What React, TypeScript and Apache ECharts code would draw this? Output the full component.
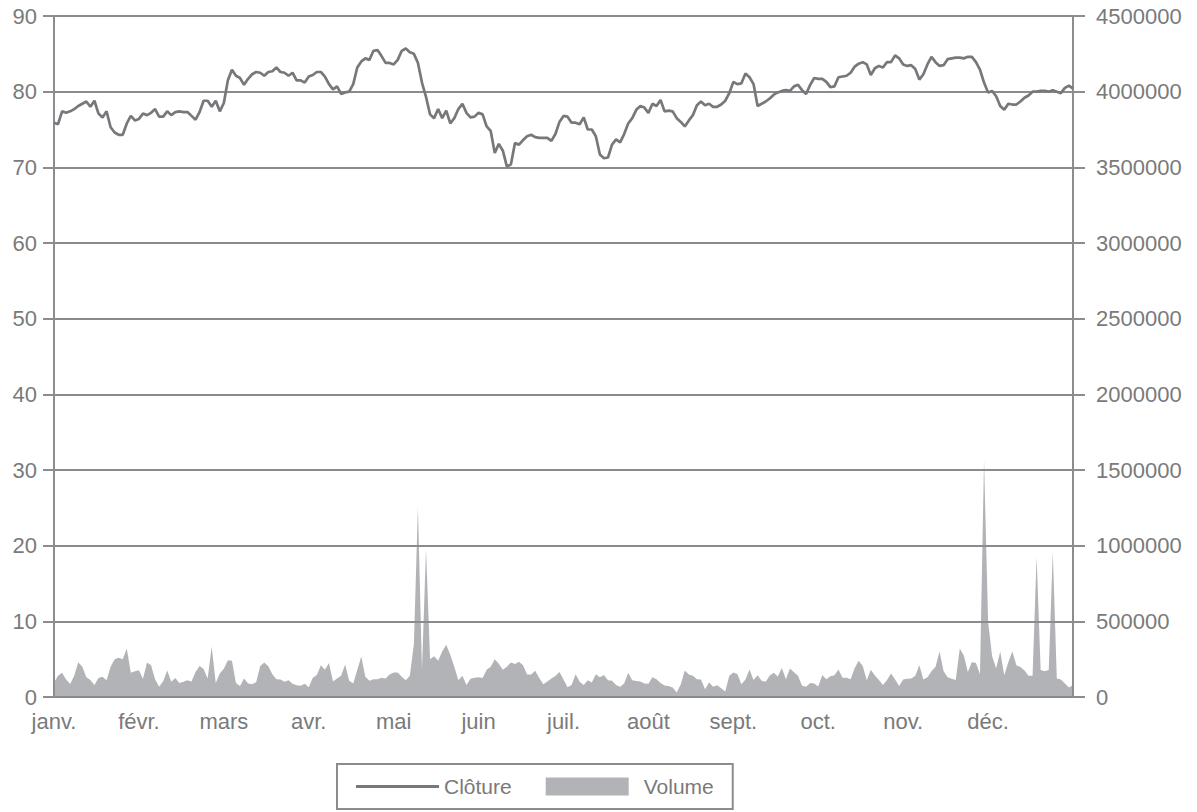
import React, { useEffect, useRef } from "react";
import * as echarts from "echarts";

const monthLabels = ["janv.", "févr.", "mars", "avr.", "mai", "juin", "juil.", "août", "sept.", "oct.", "nov.", "déc."];
const daysPerMonthSlot = 21;

const closeValues = [
  75.9, 75.7, 77.4, 77.2, 77.4, 77.7, 78.1, 78.4, 78.7, 78.0,
  78.8, 77.1, 76.6, 77.4, 75.3, 74.6, 74.3, 74.3, 75.8, 76.8,
  76.2, 76.4, 77.1, 76.9, 77.2, 77.7, 76.7, 76.7, 77.4, 76.9,
  77.3, 77.4, 77.3, 77.3, 76.8, 76.3, 77.3, 78.8, 78.8, 78.0,
  78.8, 77.4, 78.5, 81.5, 82.9, 82.1, 81.8, 80.9, 81.7, 82.3,
  82.6, 82.5, 82.1, 82.6, 82.7, 83.2, 82.6, 82.5, 82.1, 82.5,
  81.5, 81.5, 81.2, 82.0, 82.2, 82.6, 82.6, 82.0, 81.0, 80.3,
  80.7, 79.7, 79.9, 80.0, 81.0, 83.2, 84.0, 84.4, 84.2, 85.4,
  85.5, 84.7, 83.8, 83.8, 83.6, 84.2, 85.4, 85.7, 85.2, 85.0,
  83.8, 81.2, 79.3, 77.0, 76.5, 77.7, 76.5, 77.5, 75.8, 76.5,
  77.7, 78.4, 77.2, 76.6, 76.7, 77.2, 77.0, 75.4, 74.8, 71.9,
  73.1, 72.2, 70.1, 70.4, 73.2, 73.0, 73.6, 74.1, 74.3, 74.0,
  73.9, 73.9, 73.9, 73.5, 74.4, 76.0, 76.8, 76.7, 75.9, 75.9,
  75.7, 76.6, 75.0, 75.0, 74.1, 71.7, 71.2, 71.3, 73.0, 73.7,
  73.3, 74.4, 75.8, 76.5, 77.6, 78.1, 77.9, 77.2, 78.4, 78.1,
  78.9, 77.4, 77.5, 77.4, 76.5, 76.0, 75.4, 76.2, 76.9, 78.2,
  78.7, 78.2, 78.4, 78.0, 78.0, 78.3, 78.8, 79.8, 81.3, 81.0,
  81.1, 82.4, 81.9, 81.0, 78.1, 78.4, 78.7, 79.1, 79.6, 79.9,
  80.1, 80.2, 80.1, 80.7, 80.9, 80.2, 79.7, 80.9, 81.8, 81.7,
  81.7, 81.3, 80.6, 80.7, 81.9, 82.0, 82.1, 82.5, 83.3, 83.7,
  83.9, 83.6, 82.2, 83.1, 83.4, 83.2, 83.9, 83.9, 84.8, 84.4,
  83.6, 83.4, 83.5, 83.0, 81.6, 82.3, 83.6, 84.6, 83.9, 83.4,
  83.5, 84.3, 84.4, 84.5, 84.5, 84.4, 84.6, 84.6, 83.9, 82.9,
  81.2, 79.9, 80.1, 79.4, 78.1, 77.6, 78.4, 78.3, 78.3, 78.7,
  79.2, 79.5, 80.0, 80.0, 80.1, 80.1, 80.0, 80.2, 80.0, 79.8,
  80.5, 80.8, 80.4,
];

const volumeValues = [
  95000, 140000, 160000, 115000, 86000, 140000, 230000, 200000, 130000, 112000,
  80000, 125000, 133000, 110000, 200000, 250000, 260000, 250000, 320000, 160000,
  170000, 176000, 120000, 228000, 210000, 118000, 68000, 104000, 175000, 100000,
  125000, 92000, 100000, 110000, 102000, 165000, 205000, 185000, 122000, 333000,
  93000, 155000, 187000, 243000, 240000, 93000, 73000, 122000, 90000, 85000,
  98000, 205000, 228000, 203000, 150000, 118000, 116000, 100000, 110000, 88000,
  78000, 74000, 88000, 65000, 128000, 145000, 210000, 180000, 225000, 102000,
  122000, 140000, 215000, 108000, 90000, 180000, 268000, 133000, 107000, 118000,
  118000, 127000, 122000, 149000, 162000, 162000, 133000, 110000, 140000, 350000,
  1255000, 180000, 978000, 250000, 270000, 240000, 300000, 345000, 280000, 200000,
  110000, 140000, 80000, 120000, 128000, 130000, 125000, 180000, 200000, 250000,
  220000, 180000, 200000, 228000, 218000, 233000, 210000, 148000, 148000, 173000,
  125000, 85000, 102000, 122000, 138000, 165000, 115000, 65000, 80000, 150000,
  100000, 80000, 110000, 95000, 150000, 130000, 145000, 110000, 108000, 80000,
  68000, 90000, 160000, 110000, 106000, 102000, 90000, 88000, 130000, 118000,
  92000, 76000, 72000, 62000, 30000, 85000, 175000, 148000, 140000, 118000,
  116000, 51000, 95000, 68000, 78000, 58000, 36000, 140000, 162000, 152000,
  85000, 115000, 182000, 112000, 143000, 108000, 100000, 142000, 160000, 135000,
  192000, 118000, 188000, 163000, 140000, 74000, 68000, 92000, 90000, 70000,
  145000, 118000, 137000, 143000, 182000, 128000, 127000, 117000, 190000, 240000,
  205000, 111000, 180000, 142000, 113000, 80000, 112000, 155000, 116000, 72000,
  115000, 121000, 122000, 140000, 210000, 115000, 130000, 170000, 200000, 300000,
  170000, 130000, 120000, 112000, 320000, 275000, 165000, 232000, 225000, 150000,
  1567000, 500000, 270000, 190000, 300000, 144000, 230000, 300000, 210000, 198000,
  175000, 140000, 140000, 929000, 178000, 170000, 178000, 960000, 122000, 115000,
  90000, 62000, 80000,
];

const dayIndex = closeValues.map((_, i) => String(i));

const AXIS = "#8c8d90";
const GRID = "#8a8b8e";
const TEXT = "#7a7a7a";
const LINE = "#77787b";
const AREA = "#b2b3b6";
const FONT = "'Liberation Sans', Arial, Helvetica, sans-serif";
const LEGEND_LINE_ICON = "path://M0,7.6 H83 V10.4 H0 Z M0,0 H0.01 V18 H0 Z";

export default function App() {
  const ref = useRef<HTMLDivElement>(null);
  useEffect(() => {
    if (!ref.current) return;
    const chart = echarts.init(ref.current, undefined, { renderer: "svg" });
    chart.setOption({
      animation: false,
      backgroundColor: "#ffffff",
      textStyle: { fontFamily: FONT },
      grid: { left: 54, right: 124, top: 16, bottom: 115, containLabel: false },
      legend: {
        left: 337,
        top: 764,
        orient: "horizontal",
        padding: [12, 19, 12, 19],
        itemGap: 34,
        itemWidth: 83,
        itemHeight: 18,
        borderColor: "#8c8c8c",
        borderWidth: 2,
        textStyle: { fontSize: 21, color: TEXT, fontFamily: FONT },
        data: [
          { name: "Clôture", icon: LEGEND_LINE_ICON, itemStyle: { color: LINE } },
          {
            name: "Volume",
            icon: "rect",
            itemStyle: { color: AREA },
            textStyle: { fontSize: 21, color: TEXT, fontFamily: FONT, padding: [0, 0, 0, 10] },
          },
        ],
      },
      xAxis: {
        type: "category",
        data: dayIndex,
        boundaryGap: false,
        axisLine: { show: true, lineStyle: { color: AXIS, width: 2 } },
        axisTick: { show: false },
        splitLine: { show: false },
        axisLabel: {
          interval: (index: number) => index % daysPerMonthSlot === 0 && index / daysPerMonthSlot < monthLabels.length,
          formatter: (_v: string, index: number) => monthLabels[Math.floor(index / daysPerMonthSlot)] ?? "",
          color: TEXT,
          fontSize: 22,
          fontFamily: FONT,
          margin: 13,
        },
      },
      yAxis: [
        {
          type: "value",
          position: "left",
          min: 0,
          max: 90,
          interval: 10,
          z: 3,
          axisLine: { show: true, lineStyle: { color: AXIS, width: 2 } },
          axisTick: { show: true, length: 11, lineStyle: { color: AXIS, width: 2 } },
          axisLabel: { color: TEXT, fontSize: 22, fontFamily: FONT, margin: 17 },
          splitLine: { show: true, lineStyle: { color: GRID, width: 2 } },
        },
        {
          type: "value",
          position: "right",
          min: 0,
          max: 4500000,
          interval: 500000,
          z: 3,
          axisLine: { show: true, lineStyle: { color: AXIS, width: 2 } },
          axisTick: { show: true, length: 12, lineStyle: { color: AXIS, width: 2 } },
          axisLabel: {
            color: TEXT,
            fontSize: 22,
            fontFamily: FONT,
            margin: 23,
            formatter: (v: number) => String(v),
          },
          splitLine: { show: false },
        },
      ],
      series: [
        {
          name: "Volume",
          type: "line",
          yAxisIndex: 1,
          data: volumeValues,
          symbol: "none",
          color: AREA,
          lineStyle: { width: 0, color: AREA },
          areaStyle: { color: AREA, opacity: 1 },
          z: 2,
        },
        {
          name: "Clôture",
          type: "line",
          yAxisIndex: 0,
          data: closeValues,
          symbol: "none",
          color: LINE,
          lineStyle: { width: 2.7, color: LINE },
          z: 4,
        },
      ],
    });
    return () => chart.dispose();
  }, []);
  return <div ref={ref} style={{ position: "fixed", left: 0, top: 0, width: 1197, height: 812 }} />;
}
